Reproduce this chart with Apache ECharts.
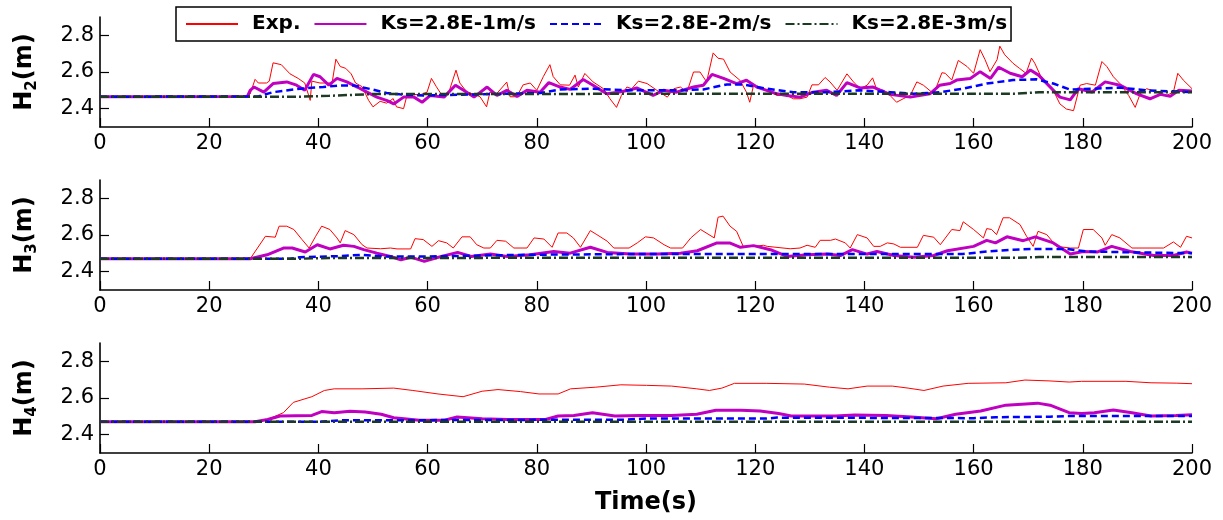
<!DOCTYPE html>
<html>
<head>
<meta charset="utf-8">
<script src="https://cdn.jsdelivr.net/npm/echarts@6/dist/echarts.min.js"></script>
<style>html,body{margin:0;padding:0;background:#fff}#c{width:1223px;height:520px}</style>
</head>
<body>
<div id="c"></div>
<script>
// ---------- DATA ----------
const seriesNames = ['Exp.', 'Ks=2.8E-1m/s', 'Ks=2.8E-2m/s', 'Ks=2.8E-3m/s'];
const panelNames = ['2', '3', '4']; // H subscripts
const xTicks = [0, 20, 40, 60, 80, 100, 120, 140, 160, 180, 200];
const yTicks = [2.4, 2.6, 2.8];

const h2Exp = [[0,2.465],[27,2.467],[27.5,2.48],[28.4,2.56],[29,2.54],[30.5,2.54],[31,2.55],[31.7,2.65],[33.2,2.64],[34.8,2.59],[36.3,2.565],[37.5,2.54],[38.5,2.445],[38.8,2.55],[40.3,2.54],[42.1,2.54],[42.4,2.52],[43.2,2.67],[44,2.63],[45,2.62],[46,2.59],[46.8,2.54],[48,2.52],[49.2,2.445],[50,2.41],[51.3,2.44],[52.5,2.43],[53.7,2.455],[54.3,2.41],[55.6,2.40],[56.2,2.47],[56.8,2.48],[58.6,2.475],[59.9,2.49],[60.7,2.565],[61.6,2.52],[62.8,2.465],[64,2.50],[65.2,2.61],[65.9,2.54],[67.2,2.49],[68.4,2.48],[69.6,2.465],[70.8,2.41],[71.4,2.49],[72.6,2.48],[74.5,2.545],[75.1,2.465],[76.3,2.465],[77.5,2.53],[78.8,2.54],[80,2.50],[81.2,2.575],[82.4,2.64],[83,2.575],[84.3,2.53],[86,2.528],[87,2.583],[87.6,2.518],[88.8,2.592],[90.3,2.546],[92.2,2.509],[93.4,2.454],[94.6,2.407],[95.5,2.472],[96.5,2.518],[97.4,2.509],[98.6,2.55],[100.2,2.537],[102,2.5],[103.9,2.463],[105.1,2.509],[106.3,2.518],[107.5,2.49],[108.7,2.60],[109.9,2.60],[111.1,2.546],[112.3,2.704],[113.2,2.675],[114.2,2.67],[115.4,2.60],[117.2,2.555],[118.4,2.49],[119,2.435],[119.7,2.528],[120.9,2.509],[122.1,2.50],[124,2.472],[125.8,2.472],[127,2.454],[128.2,2.454],[129.5,2.463],[130.4,2.53],[131.6,2.53],[132.8,2.57],[133.7,2.546],[135,2.50],[136.8,2.59],[138,2.546],[139.2,2.509],[140.5,2.528],[141.5,2.568],[142.2,2.509],[143.5,2.50],[144.7,2.472],[145.9,2.435],[147.1,2.454],[148.4,2.472],[149.6,2.546],[150.8,2.528],[152.7,2.481],[154.2,2.596],[154.8,2.593],[156,2.556],[157.2,2.663],[158.8,2.63],[160,2.593],[161.2,2.722],[162.1,2.667],[163,2.602],[164.3,2.667],[164.8,2.741],[165.7,2.694],[167.2,2.648],[168.4,2.62],[169.6,2.593],[170.6,2.676],[171.2,2.648],[172.2,2.583],[173.4,2.537],[174.6,2.50],[175.8,2.426],[177,2.398],[178.3,2.389],[179.5,2.528],[180.7,2.537],[182.3,2.528],[183.5,2.657],[184.4,2.63],[185.6,2.574],[186.8,2.537],[188.4,2.472],[189.6,2.407],[190.5,2.481],[191.7,2.509],[193.5,2.491],[195.4,2.472],[196.6,2.491],[197.4,2.593],[198.4,2.556],[200,2.509]];
const h2Ks1 = [[0,2.465],[27,2.467],[27.5,2.50],[28.2,2.518],[30,2.49],[31.7,2.537],[34.2,2.546],[36,2.528],[37.5,2.50],[39.1,2.587],[40.3,2.574],[41.9,2.528],[43.4,2.565],[45.2,2.546],[47.1,2.518],[48.9,2.49],[50.7,2.463],[52.6,2.444],[53.8,2.426],[55.6,2.463],[57.5,2.463],[59,2.435],[60.5,2.472],[63,2.463],[65.1,2.528],[66.6,2.50],[68.5,2.463],[70.9,2.518],[72.7,2.472],[74.5,2.50],[76.4,2.467],[78.2,2.50],[80.6,2.49],[82.2,2.542],[84.3,2.518],[86.1,2.505],[88.5,2.559],[90.3,2.528],[92.8,2.481],[94.9,2.49],[96.8,2.50],[98.3,2.513],[101.3,2.472],[103.2,2.50],[105.6,2.49],[108.7,2.518],[110.5,2.528],[112.1,2.587],[114.2,2.565],[116.6,2.537],[118.4,2.555],[120.3,2.518],[122.1,2.50],[124,2.481],[125.8,2.472],[128.2,2.463],[130.6,2.49],[133.1,2.50],[134.9,2.472],[136.8,2.542],[139.2,2.513],[141.6,2.518],[144.7,2.478],[148.4,2.463],[152,2.481],[153.8,2.528],[155.7,2.537],[156.9,2.556],[159.4,2.565],[161.2,2.602],[163.1,2.565],[164.6,2.626],[166.7,2.593],[168.9,2.574],[170.4,2.611],[171.9,2.583],[174,2.519],[175.8,2.463],[177.7,2.448],[179.2,2.509],[181.7,2.491],[184.1,2.546],[186.8,2.528],[189.9,2.481],[192.3,2.454],[194.2,2.478],[196,2.467],[197.6,2.50],[200,2.496]];
const h2Ks2 = [[0,2.465],[29,2.467],[31.7,2.49],[36.6,2.509],[40.9,2.518],[44,2.527],[46.4,2.527],[50,2.504],[52.5,2.485],[54.9,2.478],[59.2,2.472],[65.3,2.476],[74.5,2.481],[80.6,2.485],[84.2,2.505],[90.3,2.509],[96.5,2.50],[105.6,2.50],[110.5,2.505],[114.8,2.532],[117.8,2.532],[122.1,2.509],[127,2.49],[133.1,2.49],[139.2,2.50],[144.7,2.49],[149,2.481],[153.8,2.49],[158.1,2.509],[162.4,2.537],[167.2,2.556],[171.5,2.56],[174.6,2.537],[177.7,2.504],[182,2.509],[186.8,2.515],[191.7,2.50],[200,2.49]];
const h2Ks3 = [[0,2.465],[36,2.465],[42,2.47],[50,2.48],[168,2.482],[172,2.49],[200,2.49]];

const h3Exp = [[0,2.47],[27.5,2.47],[27.8,2.477],[30.3,2.593],[32.1,2.588],[32.8,2.648],[34.2,2.648],[35.5,2.63],[37,2.575],[38.3,2.529],[39.5,2.593],[40.6,2.648],[42.1,2.63],[43.4,2.584],[44,2.557],[44.9,2.624],[46.5,2.602],[48,2.547],[48.9,2.529],[51.4,2.525],[53.2,2.529],[54.4,2.524],[56.9,2.524],[57.7,2.58],[59.2,2.575],[60.8,2.538],[62,2.569],[63.5,2.557],[64.7,2.529],[66.3,2.59],[67.8,2.59],[69,2.547],[70.3,2.529],[71.5,2.529],[72.7,2.571],[74.3,2.566],[75.8,2.529],[78.2,2.529],[79.5,2.584],[81.3,2.578],[82.8,2.533],[83.9,2.611],[85.5,2.611],[86.7,2.584],[88,2.533],[89.8,2.624],[91,2.602],[92.9,2.566],[94.1,2.529],[96.9,2.529],[98.4,2.557],[99.9,2.59],[101.4,2.584],[103.3,2.547],[104.5,2.529],[106.7,2.529],[108.2,2.584],[110,2.63],[112.5,2.584],[113.2,2.697],[114.1,2.703],[115.4,2.648],[116.6,2.62],[117.8,2.538],[119.7,2.538],[121.5,2.544],[122.2,2.538],[126.4,2.525],[128.2,2.529],[129.5,2.544],[131,2.533],[131.9,2.571],[133.8,2.571],[134.7,2.578],[136.5,2.557],[137.4,2.529],[138.7,2.602],[140.5,2.584],[141.7,2.538],[142.9,2.538],[144.2,2.557],[145.4,2.551],[146.6,2.533],[149.7,2.533],[150.8,2.598],[152.7,2.588],[153.9,2.547],[156,2.63],[157.5,2.624],[158.1,2.672],[160,2.63],[161.8,2.584],[162.4,2.635],[163.3,2.63],[164.2,2.602],[165.4,2.694],[166.6,2.694],[168.5,2.657],[169.7,2.593],[170.9,2.538],[171.8,2.62],[173.4,2.602],[175.2,2.538],[177.7,2.529],[179.2,2.529],[180.1,2.63],[181.9,2.63],[183.5,2.584],[184.1,2.544],[185.3,2.602],[186.8,2.584],[189,2.529],[194.8,2.529],[196.6,2.562],[197.9,2.533],[199,2.593],[200,2.584]];
const h3Ks1 = [[0,2.47],[27.5,2.47],[30.6,2.492],[33.6,2.529],[35.2,2.529],[37.6,2.507],[39.8,2.547],[42.1,2.524],[44.6,2.544],[46.5,2.538],[48.3,2.52],[50.7,2.501],[53.2,2.483],[55.1,2.465],[56.9,2.479],[59.4,2.456],[61.8,2.477],[65.5,2.505],[68,2.483],[71.5,2.496],[74.6,2.483],[78.8,2.492],[83.1,2.51],[86.1,2.501],[89.8,2.533],[92.9,2.505],[97.2,2.496],[102,2.496],[106.3,2.501],[109.4,2.514],[113,2.557],[115.3,2.557],[117.3,2.533],[119.7,2.542],[122.8,2.52],[125.8,2.483],[129.5,2.492],[133.2,2.496],[135.6,2.488],[137.8,2.52],[140.5,2.496],[142.3,2.51],[145.4,2.488],[149.1,2.479],[152.7,2.488],[155.2,2.514],[160,2.538],[162.4,2.571],[164,2.557],[166.1,2.59],[169.1,2.569],[171.3,2.59],[174.6,2.557],[177.7,2.496],[180.1,2.51],[182.6,2.507],[185.3,2.538],[188.7,2.51],[193,2.488],[196.6,2.488],[199,2.507],[200,2.501]];
const h3Ks2 = [[0,2.47],[34.8,2.47],[36.6,2.479],[44,2.485],[48,2.492],[52,2.483],[60,2.483],[70,2.488],[78,2.492],[97,2.496],[158,2.496],[162.4,2.51],[167,2.52],[171,2.524],[177,2.524],[180.7,2.51],[190,2.505],[200,2.501]];
const h3Ks3 = [[0,2.47],[36,2.47],[42,2.475],[168,2.476],[172,2.48],[200,2.48]];

const h4Exp = [[0,2.47],[28.4,2.47],[30.7,2.483],[33.6,2.52],[35.4,2.576],[38.8,2.607],[41.1,2.641],[42.9,2.65],[48,2.65],[53.8,2.654],[57.3,2.641],[61.9,2.622],[66.5,2.607],[70,2.637],[72.9,2.646],[77,2.635],[80.4,2.622],[83.9,2.622],[86.2,2.65],[90.8,2.659],[95.4,2.672],[100.1,2.669],[104.7,2.665],[109.3,2.65],[111.6,2.641],[113.9,2.654],[116.2,2.68],[122,2.68],[129,2.676],[133.6,2.659],[137,2.65],[140.5,2.665],[145.1,2.665],[148,2.654],[150.9,2.641],[154.4,2.665],[159,2.68],[165.9,2.683],[169.4,2.698],[174,2.693],[177.5,2.687],[179.8,2.691],[187.9,2.691],[192.5,2.683],[197.1,2.681],[200,2.678]];
const h4Ks1 = [[0,2.47],[28.4,2.47],[30.7,2.483],[33,2.502],[38.8,2.505],[40.6,2.526],[42.9,2.52],[45.8,2.528],[48.6,2.524],[51.5,2.511],[53.8,2.492],[58.5,2.479],[63.1,2.479],[65.4,2.496],[70,2.487],[74.6,2.483],[81.6,2.483],[83.9,2.502],[86.8,2.505],[90.2,2.52],[94.3,2.502],[98.9,2.505],[104.7,2.505],[109.3,2.511],[112.8,2.533],[117.4,2.533],[120.9,2.529],[124.3,2.515],[126.6,2.502],[134.7,2.502],[138.2,2.507],[144,2.505],[148.6,2.496],[153.2,2.487],[156.7,2.511],[161.3,2.529],[165.9,2.561],[171.7,2.572],[174,2.561],[177.5,2.52],[179.8,2.516],[182.1,2.52],[185.6,2.535],[189,2.52],[192.5,2.502],[197.1,2.505],[200,2.509]];
const h4Ks2 = [[0,2.47],[40,2.47],[44,2.478],[70,2.48],[96,2.482],[100,2.488],[122,2.488],[124,2.493],[160,2.49],[164,2.495],[174,2.498],[178,2.502],[200,2.502]];
const h4Ks3 = [[0,2.47],[200,2.47]];

const panelData = [
  [h2Exp, h2Ks1, h2Ks2, h2Ks3],
  [h3Exp, h3Ks1, h3Ks2, h3Ks3],
  [h4Exp, h4Ks1, h4Ks2, h4Ks3]
];

// ---------- STYLE ----------
const FONT = 'DejaVu Sans';
const styles = [
  {color:'#ff0000', width:1, type:'solid'},
  {color:'#c000c0', width:3, type:'solid'},
  {color:'#0000ff', width:2.5, type:[7,4]},
  {color:'#1c3a24', width:2.5, type:[9,3,2,3]}
];
const gridTops = [17, 180, 343];
const gridH = 110;

const chart = echarts.init(document.getElementById('c'), null, {renderer:'canvas'});
const grids = [], xAxes = [], yAxes = [], series = [];
gridTops.forEach((top, i) => {
  grids.push({left:100, right:31, top:top, height:gridH, containLabel:false});
  xAxes.push({
    type:'value', gridIndex:i, min:0, max:200, interval:20,
    axisLine:{show:true, lineStyle:{color:'#000', width:1.6}},
    axisTick:{show:true, inside:true, length:9, lineStyle:{color:'#000', width:1.2}},
    axisLabel:{color:'#000', fontFamily:FONT, fontSize:21, margin:6, customValues:xTicks},
    splitLine:{show:false},
    name: i === 2 ? 'Time(s)' : '',
    nameLocation:'middle', nameGap:38,
    nameTextStyle:{color:'#000', fontFamily:FONT, fontWeight:'bold', fontSize:24}
  });
  yAxes.push({
    type:'value', gridIndex:i, min:2.3, max:2.9,
    axisLine:{show:true, lineStyle:{color:'#000', width:1.6}},
    axisTick:{show:true, inside:true, length:9, customValues:yTicks, lineStyle:{color:'#000', width:1.2}},
    axisLabel:{color:'#000', fontFamily:FONT, fontSize:21, margin:6, customValues:yTicks,
      formatter:v => v.toFixed(1)},
    splitLine:{show:false},
    name:'{h|H}{s|' + panelNames[i] + '}{h|(m)}',
    nameLocation:'middle', nameRotate:90, nameGap:60,
    nameTextStyle:{
      rich:{
        h:{fontFamily:FONT, fontWeight:'bold', fontSize:24, color:'#000', lineHeight:30},
        s:{fontFamily:FONT, fontWeight:'bold', fontSize:15, color:'#000', lineHeight:30, padding:[14,0,0,0]}
      }
    }
  });
  panelData[i].forEach((d, k) => {
    series.push({
      name: seriesNames[k], type:'line', xAxisIndex:i, yAxisIndex:i,
      data:d, symbol:'none', showSymbol:false, smooth:false,
      lineStyle:{color:styles[k].color, width:styles[k].width, type:styles[k].type},
      itemStyle:{color:styles[k].color},
      emphasis:{disabled:true}, z:2+k
    });
  });
});

chart.setOption({
  animation:false,
  backgroundColor:'#fff',
  legend:{
    data:seriesNames, left:176, top:7, orient:'horizontal',
    itemWidth:52, itemHeight:12, itemGap:13,
    padding:[7,4,7,9],
    itemStyle:{opacity:0},
    borderColor:'#000', borderWidth:1.5, backgroundColor:'#fff',
    textStyle:{color:'#000', fontFamily:FONT, fontWeight:'bold', fontSize:20, padding:[0,0,0,9]},
    selectedMode:false
  },
  grid:grids, xAxis:xAxes, yAxis:yAxes, series:series
});
</script>
</body>
</html>
